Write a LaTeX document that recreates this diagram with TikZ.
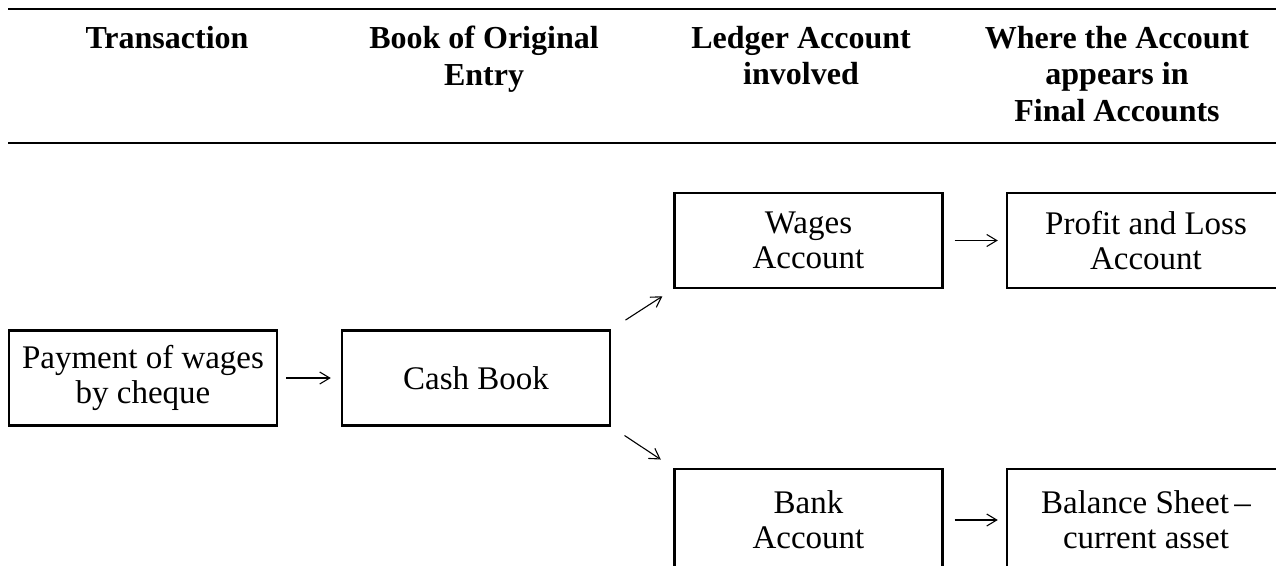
\documentclass[tikz,border=0pt]{standalone}
\usepackage{fontspec}
\setmainfont{Liberation Serif}
\usetikzlibrary{arrows.meta}
\tikzset{
  boxnode/.style={draw, line width=2.4pt, minimum width=268pt, minimum height=95pt,
    align=center, inner sep=0pt, font=\fontsize{33}{35}\selectfont},
  rightbox/.style={boxnode, minimum width=278pt},
  lowbox/.style={minimum height=102pt},
  headnode/.style={anchor=north, align=center, inner sep=0pt,
    font=\bfseries\fontsize{32}{36.5}\selectfont},
  rulestyle/.style={line width=2.6pt},
  arr/.style={line width=1.1pt, -{Straight Barb[length=10pt,width=12pt,line width=1.1pt]}}
}
\begin{document}
\begin{tikzpicture}[x=1pt,y=-1pt]
\clip (0,0) rectangle (1276,565);
\useasboundingbox (0,0) rectangle (1276,565);
% header rules
\coordinate (r1a) at (8,9);   \coordinate (r1b) at (1280,9);
\coordinate (r2a) at (8,143); \coordinate (r2b) at (1280,143);
\draw[rulestyle] (r1a) -- (r1b);
\draw[rulestyle] (r2a) -- (r2b);
% headers
\node[headnode] (h1) at (167,26) {Transaction};
\node[headnode] (h2) at (484,26) {Book of Original\\Entry};
\node[headnode] (h3) at (801,26) {Ledger Account\\involved};
\node[headnode] (h4) at (1117,26) {Where the Account\\appears in\\Final Accounts};
% boxes
\node[boxnode] (pay)   at (143,378)    {Payment of wages\\by cheque};
\node[boxnode] (cash)  at (476,378)    {Cash Book};
\node[boxnode] (wages) at (808.5,240.5) {Wages\\Account};
\node[rightbox] (pl)   at (1146,240.5) {Profit and Loss\\Account};
\node[boxnode, lowbox] (bank)  at (808.5,520) {Bank\\Account};
\node[rightbox, lowbox] (bs)   at (1146,520) {Balance Sheet\,–\\current asset};
% arrows
\draw[arr, shorten <=8pt, shorten >=10pt] (pay) -- (cash);
\draw[arr, shorten <=11pt, shorten >=8pt] (wages) -- (pl);
\draw[arr, shorten <=11pt, shorten >=8pt] (bank) -- (bs);
\draw[arr, shorten <=17pt, shorten >=13pt] (cash.north east) -- (wages.south west);
\draw[arr, shorten <=16pt, shorten >=15pt] (cash.south east) -- (bank.north west);
\end{tikzpicture}
\end{document}
